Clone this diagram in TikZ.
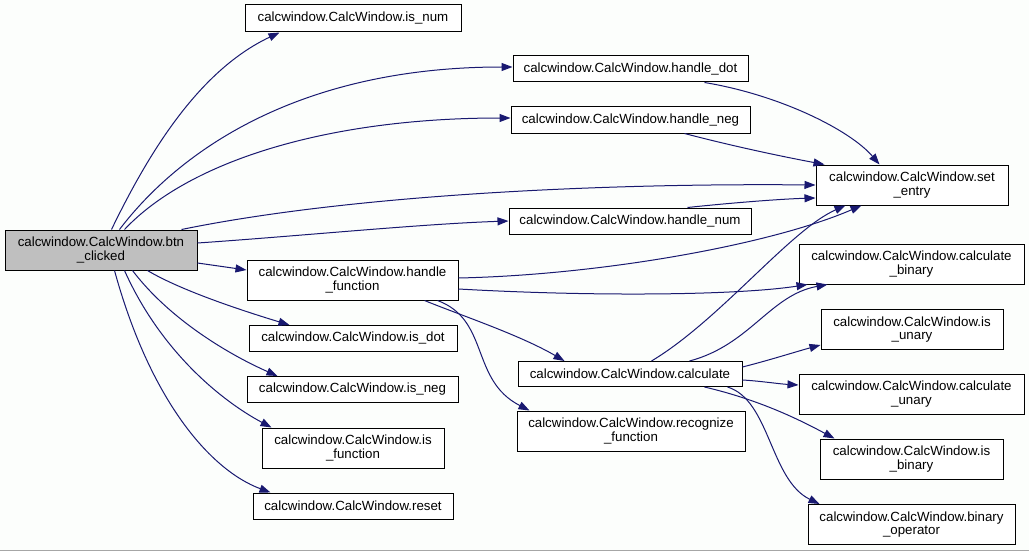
\documentclass[tikz,border=0pt]{standalone}
\usepackage{fontspec}
\setmainfont{Liberation Sans}
\usetikzlibrary{arrows.meta}
\definecolor{edgeblue}{HTML}{191970}
\definecolor{bg}{HTML}{FCFEFC}
\definecolor{nodegray}{HTML}{BFBFBF}
\tikzset{
  fn/.style={draw=black, line width=1pt, fill=white, inner sep=0pt, align=center,
    font=\fontsize{13.3}{13.5}\selectfont},
  root/.style={fn, fill=nodegray},
  edge/.style={draw=edgeblue, line width=1pt, -{Triangle[length=11pt,width=8pt]}},
}
\begin{document}
\begin{tikzpicture}[x=1pt,y=-1pt]
\fill[bg] (0,0) rectangle (1029,551);
\useasboundingbox (0,0) rectangle (1029,551);
\draw[gray!70, line width=1pt] (0,550.5) -- (1029,550.5);

\node[root, minimum width=192pt, minimum height=40pt] (btn) at (101,250) {calcwindow.CalcWindow.btn\\\_clicked};
\node[fn, minimum width=216pt, minimum height=27pt] (isnum) at (353,18.5) {calcwindow.CalcWindow.is\_num};
\node[fn, minimum width=235pt, minimum height=26pt] (hdot) at (630.5,69) {calcwindow.CalcWindow.handle\_dot};
\node[fn, minimum width=239pt, minimum height=26pt] (hneg) at (630.5,120) {calcwindow.CalcWindow.handle\_neg};
\node[fn, minimum width=242pt, minimum height=26pt] (hnum) at (630,221) {calcwindow.CalcWindow.handle\_num};
\node[fn, minimum width=192pt, minimum height=40pt] (set) at (912,185) {calcwindow.CalcWindow.set\\\_entry};
\node[fn, minimum width=225pt, minimum height=40pt] (cbin) at (911.5,264) {calcwindow.CalcWindow.calculate\\\_binary};
\node[fn, minimum width=182pt, minimum height=40pt] (isun) at (912,329.5) {calcwindow.CalcWindow.is\\\_unary};
\node[fn, minimum width=211pt, minimum height=40pt] (hfun) at (352.5,280) {calcwindow.CalcWindow.handle\\\_function};
\node[fn, minimum width=208pt, minimum height=26pt] (isdot) at (353,338.5) {calcwindow.CalcWindow.is\_dot};
\node[fn, minimum width=211pt, minimum height=26pt] (isneg) at (352.5,389.5) {calcwindow.CalcWindow.is\_neg};
\node[fn, minimum width=182pt, minimum height=40pt] (isfun) at (353,448) {calcwindow.CalcWindow.is\\\_function};
\node[fn, minimum width=200pt, minimum height=26pt] (reset) at (353,506) {calcwindow.CalcWindow.reset};
\node[fn, minimum width=224pt, minimum height=25pt] (calc) at (630,374) {calcwindow.CalcWindow.calculate};
\node[fn, minimum width=228pt, minimum height=40pt] (recog) at (631,431) {calcwindow.CalcWindow.recognize\\\_function};
\node[fn, minimum width=225pt, minimum height=40pt] (cun) at (911.5,394) {calcwindow.CalcWindow.calculate\\\_unary};
\node[fn, minimum width=183pt, minimum height=40pt] (isbin) at (911.5,459) {calcwindow.CalcWindow.is\\\_binary};
\node[fn, minimum width=207pt, minimum height=40pt] (binop) at (911.5,524.5) {calcwindow.CalcWindow.binary\\\_operator};

% from btn_clicked
\draw[edge] ([xshift=107pt]btn.north west) .. controls (150,150) and (200,70) .. ([xshift=35pt]isnum.south west);
\draw[edge] ([xshift=115pt]btn.north west) .. controls (180,150) and (300,67) .. ([yshift=2pt]hdot.west);
\draw[edge] ([xshift=120pt]btn.north west) .. controls (190,160) and (330,118) .. ([yshift=2pt]hneg.west);
\draw[edge] ([xshift=177pt]btn.north west) .. controls (350,195) and (600,183) .. (set.west);
\draw[edge] ([yshift=7pt]btn.east) .. controls (300,236) and (420,224) .. (hnum.west);
\draw[edge] ([yshift=-13pt]btn.east) -- ([yshift=10pt]hfun.west);
\draw[edge] ([xshift=143pt]btn.south west) .. controls (180,290) and (240,310) .. ([xshift=41pt]isdot.north west);
\draw[edge] ([xshift=128pt]btn.south west) .. controls (170,320) and (230,355) .. ([xshift=31pt]isneg.north west);
\draw[edge] ([xshift=120pt]btn.south west) .. controls (160,350) and (220,400) .. ([xshift=10pt]isfun.north west);
\draw[edge] ([xshift=110pt]btn.south west) .. controls (150,400) and (210,470) .. ([xshift=18pt]reset.north west);

% to set_entry
\draw[edge] ([xshift=192pt]hdot.south west) .. controls (780,95) and (850,130) .. ([xshift=64pt]set.north west);
\draw[edge] ([xshift=174pt]hneg.south west) .. controls (740,148) and (790,158) .. ([xshift=9pt]set.north west);
\draw[edge] ([xshift=179pt]hnum.north west) .. controls (730,203) and (780,199) .. ([yshift=-13pt]set.west);
\draw[edge] ([yshift=2pt]hfun.east) .. controls (600,275) and (770,245) .. ([xshift=46pt]set.south west);
\draw[edge] ([xshift=134pt]calc.north west) .. controls (720,320) and (790,230) .. ([xshift=30pt]set.south west);

% from handle_function
\draw[edge] ([yshift=-9pt]hfun.east) .. controls (600,297) and (740,295) .. ([xshift=9pt]cbin.south west);
\draw[edge] ([xshift=178pt]hfun.south west) .. controls (460,315) and (520,335) .. ([xshift=47pt]calc.north west);
\draw[edge] ([xshift=191pt]hfun.south west) .. controls (490,320) and (470,380) .. ([xshift=13pt]recog.north west);

% from calculate
\draw[edge] ([xshift=172pt]calc.north west) .. controls (750,345) and (770,295) .. ([xshift=29pt]cbin.south west);
\draw[edge] ([yshift=7pt]calc.east) .. controls (770,360) and (795,352) .. ([yshift=-15.5pt]isun.west);
\draw[edge] ([yshift=-6pt]calc.east) .. controls (760,381) and (780,384) .. ([yshift=9pt]cun.west);
\draw[edge] ([xshift=187pt]calc.south west) .. controls (760,400) and (800,420) .. ([xshift=15pt]isbin.north west);
\draw[edge] ([xshift=210pt]calc.south west) .. controls (770,400) and (770,480) .. ([xshift=12pt]binop.north west);
\end{tikzpicture}
\end{document}
